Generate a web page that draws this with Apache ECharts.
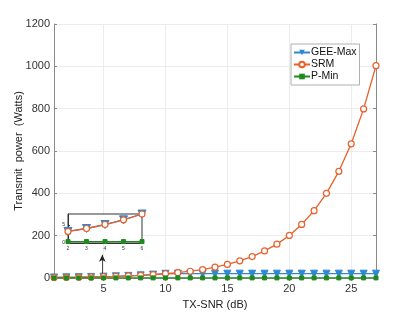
<!DOCTYPE html>
<html><head><meta charset="utf-8">
<script src="https://cdn.jsdelivr.net/npm/echarts@6/dist/echarts.min.js"></script>
<style>html,body{margin:0;padding:0;background:#fff}#c{width:415px;height:312px}</style>
</head><body><div id="c"></div>
<script>
const snr = [1,2,3,4,5,6,7,8,9,10,11,12,13,14,15,16,17,18,19,20,21,22,23,24,25,26,27];
const srm = [2.5,3.2,4,5.1,6.4,8,10,12.6,16,20,25,32,40,51,64,81,101,128,160,201,253,318,400,504,634,799,1003];
const geeMax = [2.5,3.2,4,5.1,6.4,8,10,12.6,16,20,20.5,20.5,20.5,20.5,20.5,20.5,20.5,20.5,20.5,20.5,20.5,20.5,20.5,20.5,20.5,20.5,20.5];
const pMin = [0.4,0.4,0.4,0.4,0.4,0.4,0.4,0.4,0.4,0.4,0.4,0.4,0.4,0.4,0.4,0.4,0.4,0.4,0.4,0.4,0.4,0.4,0.4,0.4,0.4,0.4,0.4];
const xTicks = [5,10,15,20,25];
const insetRange = [2,6];
const insetYTicks = [0,5];
const arrowX = 4.9, arrowFrom = 22, arrowTo = 110;

const pair = (xs, ys) => xs.map((x,i)=>[x, ys[i]]);
const sub = (xs, ys) => pair(xs, ys).filter(p => p[0] >= insetRange[0] && p[0] <= insetRange[1]);

const BLUE = '#2F86D3', ORANGE = '#E8602A', GREEN = '#1F8A1F';
const F = 'Liberation Sans, Arial, sans-serif';

const chart = echarts.init(document.getElementById('c'), null, {renderer:'canvas'});
const axisGray = '#8a8a8a';
const mainSeries = (name, ys, color, symbol, size, extra) => Object.assign({
  name, type:'line', data: pair(snr, ys), xAxisIndex:0, yAxisIndex:0,
  symbol, symbolSize:size, lineStyle:{color, width:1.3}, itemStyle:{color, borderColor:color},
  animation:false
}, extra||{});
const insetSeries = (ys, color, symbol, size, extra) => Object.assign({
  type:'line', data: sub(snr, ys), xAxisIndex:2, yAxisIndex:2, z:6,
  symbol, symbolSize:size, lineStyle:{color, width:1.3}, itemStyle:{color, borderColor:color},
  animation:false
}, extra||{});

chart.setOption({
  animation:false,
  textStyle:{fontFamily:F},
  grid:[
    {left:54, right:39, top:24, bottom:34, show:false, containLabel:false, outerBoundsMode:'none'},
    {left:68, right:273, top:214, bottom:69, show:true, backgroundColor:'#fff', borderColor:'#333', borderWidth:1, z:4, containLabel:false, outerBoundsMode:'none'}
  ],
  legend:{
    left:291, top:44, orient:'vertical', itemWidth:16, itemHeight:7, itemGap:1,
    padding:[3,3,3,2], borderColor:'#b0b0b0', borderWidth:1, backgroundColor:'#fff',
    textStyle:{fontSize:10.5, color:'#111', fontFamily:F, padding:[0,0,0,-4]},
    data:['GEE-Max','SRM','P-Min']
  },
  xAxis:[
    {type:'value', gridIndex:0, min:1, max:27, position:'bottom',
     name:'TX-SNR (dB)', nameLocation:'middle', nameGap:21, nameMoveOverlap:false, nameTextStyle:{fontSize:11, color:'#222', fontFamily:F},
     axisLine:{show:true, lineStyle:{color:axisGray}},
     axisTick:{show:true, inside:true, length:3, customValues:xTicks, lineStyle:{color:axisGray}},
     axisLabel:{customValues:xTicks, fontSize:11, color:'#333', margin:5, fontFamily:F},
     splitLine:{show:true, lineStyle:{color:'#ececec'}}},
    {type:'value', gridIndex:0, min:1, max:27, position:'top',
     axisLine:{show:true, lineStyle:{color:axisGray}},
     axisTick:{show:true, inside:true, length:3, customValues:xTicks, lineStyle:{color:axisGray}},
     axisLabel:{show:false}, splitLine:{show:false}},
    {type:'value', gridIndex:1, min:2, max:6, interval:1, position:'bottom',
     axisLine:{show:true, lineStyle:{color:'#333'}}, z:5,
     axisTick:{show:true, inside:true, length:2, lineStyle:{color:'#333'}},
     axisLabel:{fontSize:5, color:'#333', margin:3, fontFamily:F},
     splitLine:{show:false}}
  ],
  yAxis:[
    {type:'value', gridIndex:0, min:0, max:1200, interval:200, position:'left',
     name:'Transmit  power  (Watts)', nameLocation:'middle', nameGap:30, nameMoveOverlap:false, nameTextStyle:{fontSize:11, color:'#222', fontFamily:F},
     axisLine:{show:true, lineStyle:{color:axisGray}},
     axisTick:{show:true, inside:true, length:3, lineStyle:{color:axisGray}},
     axisLabel:{fontSize:11, color:'#333', margin:4, fontFamily:F, formatter:v=>String(v)},
     splitLine:{show:true, lineStyle:{color:'#ececec'}}},
    {type:'value', gridIndex:0, min:0, max:1200, interval:200, position:'right',
     axisLine:{show:true, lineStyle:{color:axisGray}},
     axisTick:{show:true, inside:true, length:3, lineStyle:{color:axisGray}},
     axisLabel:{show:false}, splitLine:{show:false}},
    {type:'value', gridIndex:1, min:0, max:8, position:'left', z:5,
     axisLine:{show:true, lineStyle:{color:'#333'}},
     axisTick:{show:true, inside:true, length:2, customValues:insetYTicks, lineStyle:{color:'#333'}},
     axisLabel:{customValues:insetYTicks, fontSize:5, color:'#333', margin:3, fontFamily:F},
     splitLine:{show:false}}
  ],
  series:[
    mainSeries('GEE-Max', geeMax, BLUE, 'triangle', 7, {symbolRotate:180}),
    mainSeries('SRM', srm, ORANGE, 'circle', 6, {itemStyle:{color:'#fff', borderColor:ORANGE, borderWidth:1.2},
      markLine:{silent:true, symbol:['none','arrow'], symbolSize:[5,7], label:{show:false},
        lineStyle:{color:'#222', width:0.8, type:'solid'},
        data:[[{coord:[arrowX, arrowFrom]},{coord:[arrowX, arrowTo]}]]}}),
    mainSeries('P-Min', pMin, GREEN, 'rect', 4),
    insetSeries(geeMax, BLUE, 'triangle', 8, {symbolRotate:180}),
    insetSeries(srm, ORANGE, 'circle', 6, {itemStyle:{color:'#fff', borderColor:ORANGE, borderWidth:1.2}}),
    insetSeries(pMin, GREEN, 'rect', 4)
  ]
});
</script></body></html>
